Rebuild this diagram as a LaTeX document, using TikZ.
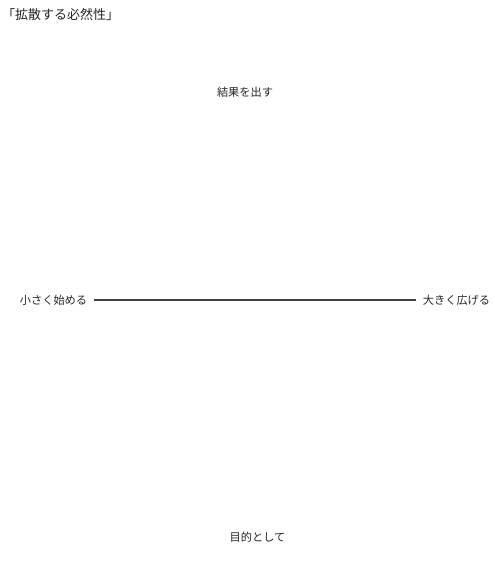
\documentclass[tikz,border=0pt]{standalone}
\usepackage{fontspec}
\setmainfont{Noto Sans CJK JP}
\begin{document}
\begin{tikzpicture}[x=1pt,y=-1pt,
  lbl/.style={inner sep=0pt,font=\fontsize{11.2}{13}\selectfont,text=black!85},
  axis/.style={draw=black!75,line width=1.3pt}]
\path[fill=white,use as bounding box] (0,0) rectangle (495,563);
\node[lbl,anchor=west,font=\fontsize{13}{15}\selectfont] (title) at (2,15) {「拡散する必然性」};
\node[lbl] (top) at (245,92) {結果を出す};
\node[lbl] (bottom) at (257.5,537) {目的として};
\node[lbl] (left) at (53.5,300) {小さく始める};
\node[lbl] (right) at (456.5,300) {大きく広げる};
\draw[axis] ([xshift=7pt]left.east) -- ([xshift=-7pt]right.west);
\end{tikzpicture}
\end{document}
